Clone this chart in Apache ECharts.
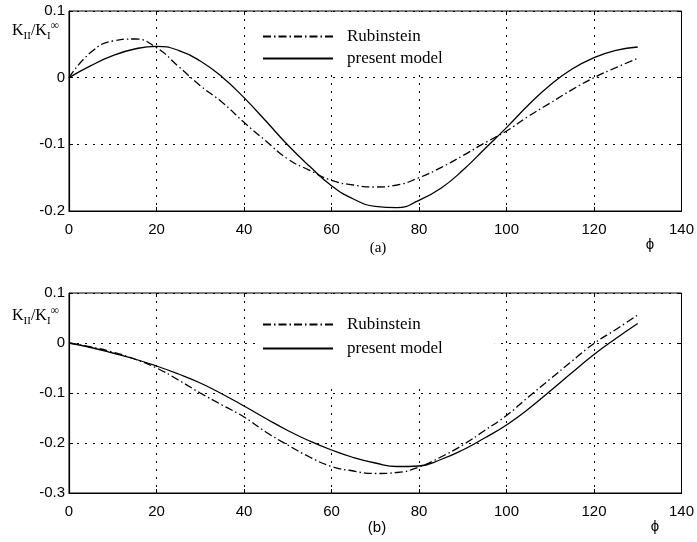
<!DOCTYPE html>
<html>
<head>
<meta charset="utf-8">
<script src="https://cdn.jsdelivr.net/npm/echarts@6/dist/echarts.min.js"></script>
<style>
  html, body { margin: 0; padding: 0; background: #fff; }
  #chart { width: 697px; height: 542px; }
</style>
</head>
<body>
<div id="chart"></div>
<script>
// phi values (deg) where curves were read
var phi = [0, 5, 10, 15, 20, 25, 30, 35, 40, 45, 50, 55, 60, 65,
  70, 75, 80, 85, 90, 95, 100, 105, 110, 115, 120, 125, 130]

// (a) K_II / K_I
var aRubinstein = [0, 0.038, 0.055, 0.058, 0.045, 0.017, -0.012, -0.037, -0.067, -0.095, -0.122, -0.139, -0.154, -0.161,
  -0.164, -0.161, -0.150, -0.135, -0.117, -0.098, -0.080, -0.058, -0.038, -0.018, 0.000, 0.015, 0.029]
var aModel = [0, 0.018, 0.033, 0.043, 0.047, 0.041, 0.025, 0.001, -0.030, -0.065, -0.101, -0.133, -0.162, -0.182,
  -0.193, -0.195, -0.184, -0.166, -0.139, -0.107, -0.075, -0.041, -0.011, 0.013, 0.030, 0.041, 0.046]

// (b) K_II / K_I
var bRubinstein = [0, -0.008, -0.018, -0.032, -0.050, -0.074, -0.100, -0.124, -0.148, -0.178, -0.204, -0.228, -0.247, -0.256,
  -0.261, -0.259, -0.248, -0.228, -0.204, -0.175, -0.145, -0.108, -0.072, -0.036, -0.001, 0.027, 0.056]
var bModel = [0, -0.009, -0.020, -0.032, -0.046, -0.062, -0.080, -0.102, -0.126, -0.151, -0.175, -0.196, -0.214, -0.229,
  -0.240, -0.247, -0.246, -0.233, -0.214, -0.190, -0.164, -0.132, -0.096, -0.059, -0.023, 0.009, 0.039]

var xRange = [0, 140]
var aYRange = [-0.2, 0.1]
var bYRange = [-0.3, 0.1]
var seriesNames = ['Rubinstein', 'present model']

function pairs(ys) {
  return phi.map(function (x, i) { return [x, ys[i]] })
}

var sans = 'Liberation Sans'
var serif = 'Liberation Serif'
var dotted = { color: '#000', width: 1, type: [2, 6] }
var dashDot = [8, 3, 1.5, 3]
var tick = { inside: true, length: 4, lineStyle: { color: '#000' } }

function xAxisOf(gridIndex) {
  return {
    type: 'value', gridIndex: gridIndex, min: xRange[0], max: xRange[1], interval: 20,
    axisLine: { onZero: false, lineStyle: { color: '#000', width: 1.2 } },
    axisTick: tick,
    axisLabel: { color: '#000', fontFamily: sans, fontSize: 15, margin: 11 },
    splitLine: { lineStyle: dotted }
  }
}
function yAxisOf(gridIndex, range) {
  return {
    type: 'value', gridIndex: gridIndex, min: range[0], max: range[1], interval: 0.1,
    axisLine: { onZero: false, lineStyle: { color: '#000', width: 1.2 } },
    axisTick: tick,
    axisLabel: { color: '#000', fontFamily: sans, fontSize: 15, margin: 4 },
    splitLine: { lineStyle: dotted }
  }
}
// tick marks only, on the top / right frame
function mirror(axis, position) {
  return Object.assign({}, axis, {
    position: position,
    axisLine: { show: false, onZero: false },
    axisLabel: { show: false },
    splitLine: { show: false }
  })
}
function line(name, idx, ys, dash) {
  return {
    name: name, type: 'line', xAxisIndex: idx, yAxisIndex: idx,
    data: pairs(ys), smooth: true, symbol: 'none',
    itemStyle: { color: '#000' },
    lineStyle: { color: '#000', width: 1.3, type: dash ? dashDot : 'solid' }
  }
}
// white box behind the legend hides the grid lines there, as in the original
function legendAt(top, gap, padding) {
  return {
    data: seriesNames, orient: 'vertical', left: 255, top: top,
    padding: padding, backgroundColor: '#fff',
    itemWidth: 70, itemHeight: 12, itemGap: gap, selectedMode: false,
    itemStyle: { opacity: 0 },
    textStyle: { color: '#000', fontFamily: serif, fontSize: 17, padding: [0, 0, 0, 9] }
  }
}
function kLabel(top) {
  return {
    type: 'text', left: 12, top: top,
    style: {
      text: '{k|K}{sub|II}{k|/K}{sub|I}{sup|\u221e}',
      rich: {
        k: { fontFamily: serif, fontSize: 16, lineHeight: 22, fill: '#000' },
        sub: { fontFamily: serif, fontSize: 11, lineHeight: 12, verticalAlign: 'bottom', fill: '#000' },
        sup: { fontFamily: serif, fontSize: 12, lineHeight: 11, verticalAlign: 'top', fill: '#000' }
      }
    }
  }
}
function note(text, x, y, font) {
  return {
    type: 'text', x: x, y: y,
    style: { text: text, fill: '#000', fontFamily: font, fontSize: 15, align: 'center', verticalAlign: 'middle' }
  }
}

var xa = xAxisOf(0), xb = xAxisOf(1)
var ya = yAxisOf(0, aYRange), yb = yAxisOf(1, bYRange)

var chart = echarts.init(document.getElementById('chart'))
chart.setOption({
  backgroundColor: '#fff',
  animation: false,
  grid: [
    { left: 69, right: 14, top: 11, height: 200, show: true, borderColor: '#000', borderWidth: 1 },
    { left: 69, right: 14, top: 293, height: 200, show: true, borderColor: '#000', borderWidth: 1 }
  ],
  xAxis: [xa, xb, mirror(xa, 'top'), mirror(xb, 'top')],
  yAxis: [ya, yb, mirror(ya, 'right'), mirror(yb, 'right')],
  legend: [legendAt(12, 5, [16, 52, 8, 7]), legendAt(294, 7, [22, 52, 28, 7])],
  series: [
    line(seriesNames[0], 0, aRubinstein, true),
    line(seriesNames[1], 0, aModel, false),
    line(seriesNames[0], 1, bRubinstein, true),
    line(seriesNames[1], 1, bModel, false)
  ],
  graphic: [
    kLabel(20),
    kLabel(305),
    note('(a)', 378, 248, serif),
    note('(b)', 377, 528, sans),
    note('\u03d5', 650, 245, sans),
    note('\u03d5', 655, 527, sans)
  ]
})
</script>
</body>
</html>
